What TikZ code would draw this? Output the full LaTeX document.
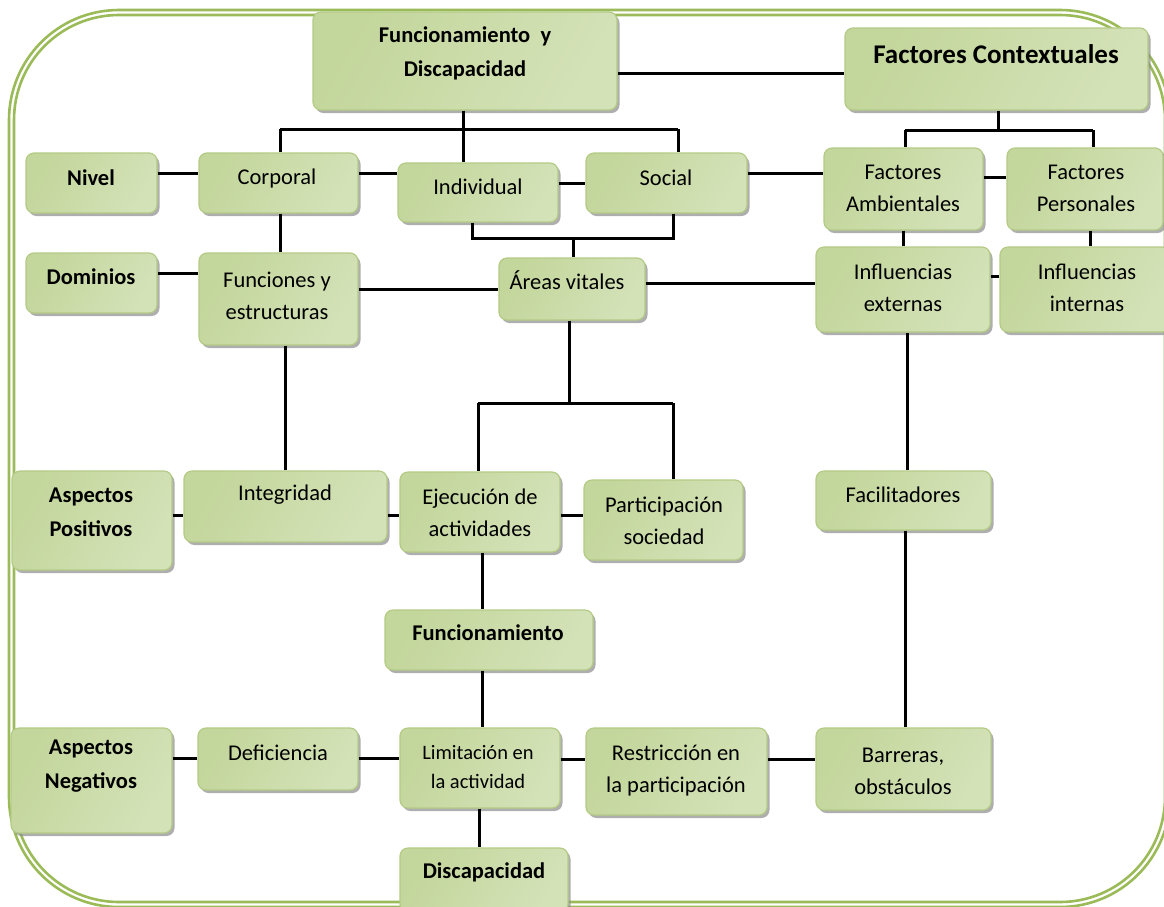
\documentclass[tikz,border=0pt]{standalone}
\usepackage{fontspec}
\setmainfont{Carlito}
\usetikzlibrary{shadows,calc}
\definecolor{frameg}{HTML}{9BBB59}
\definecolor{gdark}{HTML}{C3D69B}
\definecolor{glight}{HTML}{EBF1DE}
\definecolor{gmid}{HTML}{D4E2B8}
\definecolor{gborder}{HTML}{B4CB86}
\tikzset{
  box/.style={draw=gborder, line width=1.2pt, rounded corners=8pt,
    left color=gdark, middle color=glight, right color=gmid, shading angle=60,
    drop shadow={shadow xshift=2.5pt, shadow yshift=-3pt, fill=black!45, opacity=0.7}},
  txt/.style={align=center, inner sep=0pt, font=\fontsize{22.5}{32}\selectfont},
  btxt/.style={txt, font=\fontsize{22.5}{34}\selectfont\bfseries},
  conn/.style={line width=3pt, black},
  frame/.style={line width=2.6pt, frameg}
}
\newcommand{\bx}[5]{\node[box, minimum width=#4-#2, minimum height=#5-#3, inner sep=0pt] (#1) at ({(#2+#4)/2},{(#3+#5)/2}) {};}
\begin{document}
\begin{tikzpicture}[x=1pt,y=-1pt]
\useasboundingbox (0,0) rectangle (1164,906);
\clip (0,0) rectangle (1164,906);
\fill[white] (0,0) rectangle (1164,906);
% frame
\draw[frame, rounded corners=110pt] (9,10) rectangle (1170,907);
\draw[frame, rounded corners=105pt] (14,15) rectangle (1165,902);

% boxes
\bx{fyd}{313}{12}{617}{110}
\bx{fc}{845}{28}{1148}{110}
\bx{nivel}{26}{153}{157}{213}
\bx{corporal}{199}{153}{358}{213}
\bx{individual}{398}{163}{558}{222}
\bx{social}{586}{153}{747}{213}
\bx{fa}{824}{148}{983}{230}
\bx{fp}{1007}{148}{1163}{230}
\bx{ie}{816}{247}{990}{332}
\bx{ii}{1000}{247}{1170}{332}
\bx{dominios}{26}{253}{157}{313}
\bx{fye}{199}{253}{358}{345}
\bx{areas}{499}{258}{645}{320}
\bx{apos}{12}{471}{172}{570}
\bx{integ}{184}{471}{387}{542}
\bx{ejec}{400}{472}{560}{552}
\bx{part}{584}{480}{743}{560}
\bx{func}{385}{610}{593}{670}
\bx{facil}{816}{471}{991}{530}
\bx{aneg}{11}{728}{172}{833}
\bx{defic}{198}{728}{358}{790}
\bx{limit}{400}{728}{560}{808}
\bx{restr}{586}{728}{767}{815}
\bx{barr}{816}{728}{991}{810}
\bx{disc}{400}{848}{568}{912}

% texts
\node[btxt] at (465,53) {Funcionamiento\ \ y\\Discapacidad};
\node[txt, font=\fontsize{27}{32}\selectfont\bfseries] at (996,54) {Factores Contextuales};
\node[btxt] at (91,178) {Nivel};
\node[txt] at (277,178) {Corporal};
\node[txt] at (478,187) {Individual};
\node[txt] at (666,178) {Social};
\node[txt] at (903,188) {Factores\\Ambientales};
\node[txt] at (1086,188) {Factores\\Personales};
\node[txt] at (903,288) {Influencias\\externas};
\node[txt] at (1087,288) {Influencias\\internas};
\node[btxt] at (91,277) {Dominios};
\node[txt] at (277,296) {Funciones y\\estructuras};
\node[txt] at (567,280) {Áreas vitales};
\node[btxt] at (91,512) {Aspectos\\Positivos};
\node[txt] at (285,495) {Integridad};
\node[txt] at (480,513) {Ejecución de\\actividades};
\node[txt] at (664,521) {Participación\\sociedad};
\node[btxt] at (488,633) {Funcionamiento};
\node[txt] at (903,495) {Facilitadores};
\node[btxt] at (91,766) {Aspectos\\Negativos};
\node[txt] at (278,753) {Deficiencia};
\node[txt, font=\fontsize{20.5}{29}\selectfont] at (478,767) {Limitación en\\la actividad};
\node[txt] at (676,771) {Restricción en\\la participación};
\node[txt] at (903,771) {Barreras,\\obstáculos};
\node[btxt] at (484,872) {Discapacidad};

% tree junction points
\coordinate (j1) at (463,129);
\coordinate (j1l) at (280,129);
\coordinate (j1r) at (678,129);
\coordinate (j2) at (998,130);
\coordinate (j2l) at (905,130);
\coordinate (j2r) at (1093,130);
\coordinate (b1) at (472,238);
\coordinate (b2) at (673,238);
\coordinate (b3) at (573,238);
\coordinate (j3) at (569,403);
\coordinate (j3l) at (478,403);
\coordinate (j3r) at (673,403);

% connectors
\draw[conn] (fyd.east |- 0,73) -- (fc.west |- 0,73);
\draw[conn] (fyd.south -| j1) -- (j1);
\draw[conn] (j1l) -- (j1r);
\draw[conn] (j1l) -- (corporal.north -| j1l);
\draw[conn] (j1) -- (individual.north -| j1);
\draw[conn] (j1r) -- (social.north -| j1r);
\draw[conn] (fc.south -| j2) -- (j2);
\draw[conn] (j2l) -- (j2r);
\draw[conn] (j2l) -- (fa.north -| j2l);
\draw[conn] (j2r) -- (fp.north -| j2r);
\draw[conn] (nivel.east |- 0,173) -- (corporal.west |- 0,173);
\draw[conn] (corporal.east |- 0,173) -- (individual.west |- 0,173);
\draw[conn] (individual.east |- 0,183) -- (social.west |- 0,183);
\draw[conn] (social.east |- 0,173) -- (fa.west |- 0,173);
\draw[conn] (fa.east |- 0,177) -- (fp.west |- 0,177);
\draw[conn] (individual.south -| b1) -- (b1) -- (b2) -- (social.south -| b2);
\draw[conn] (b3) -- (areas.north -| b3);
\draw[conn] (fa.south -| 903,0) -- (ie.north -| 903,0);
\draw[conn] (fp.south -| 1090,0) -- (ii.north -| 1090,0);
\draw[conn] (ie.east |- 0,276) -- (ii.west |- 0,276);
\draw[conn] (corporal.south -| 280,0) -- (fye.north -| 280,0);
\draw[conn] (dominios.east |- 0,273) -- (fye.west |- 0,273);
\draw[conn] (fye.east |- 0,289) -- (areas.west |- 0,289);
\draw[conn] (areas.east |- 0,283) -- (ie.west |- 0,283);
\draw[conn] (areas.south -| j3) -- (j3);
\draw[conn] (j3l) -- (j3r);
\draw[conn] (j3l) -- (ejec.north -| j3l);
\draw[conn] (j3r) -- (part.north -| j3r);
\draw[conn] (fye.south -| 285,0) -- (integ.north -| 285,0);
\draw[conn] (apos.east |- 0,515) -- (integ.west |- 0,515);
\draw[conn] (integ.east |- 0,515) -- (ejec.west |- 0,515);
\draw[conn] (ejec.east |- 0,515) -- (part.west |- 0,515);
\draw[conn] (ejec.south -| 482,0) -- (func.north -| 482,0);
\draw[conn] (func.south -| 482,0) -- (limit.north -| 482,0);
\draw[conn] (ie.south -| 907,0) -- (facil.north -| 907,0);
\draw[conn] (facil.south -| 905,0) -- (barr.north -| 905,0);
\draw[conn] (aneg.east |- 0,758) -- (defic.west |- 0,758);
\draw[conn] (defic.east |- 0,758) -- (limit.west |- 0,758);
\draw[conn] (limit.east |- 0,759) -- (restr.west |- 0,759);
\draw[conn] (restr.east |- 0,759) -- (barr.west |- 0,759);
\draw[conn] (limit.south -| 479,0) -- (disc.north -| 479,0);
\end{tikzpicture}
\end{document}
